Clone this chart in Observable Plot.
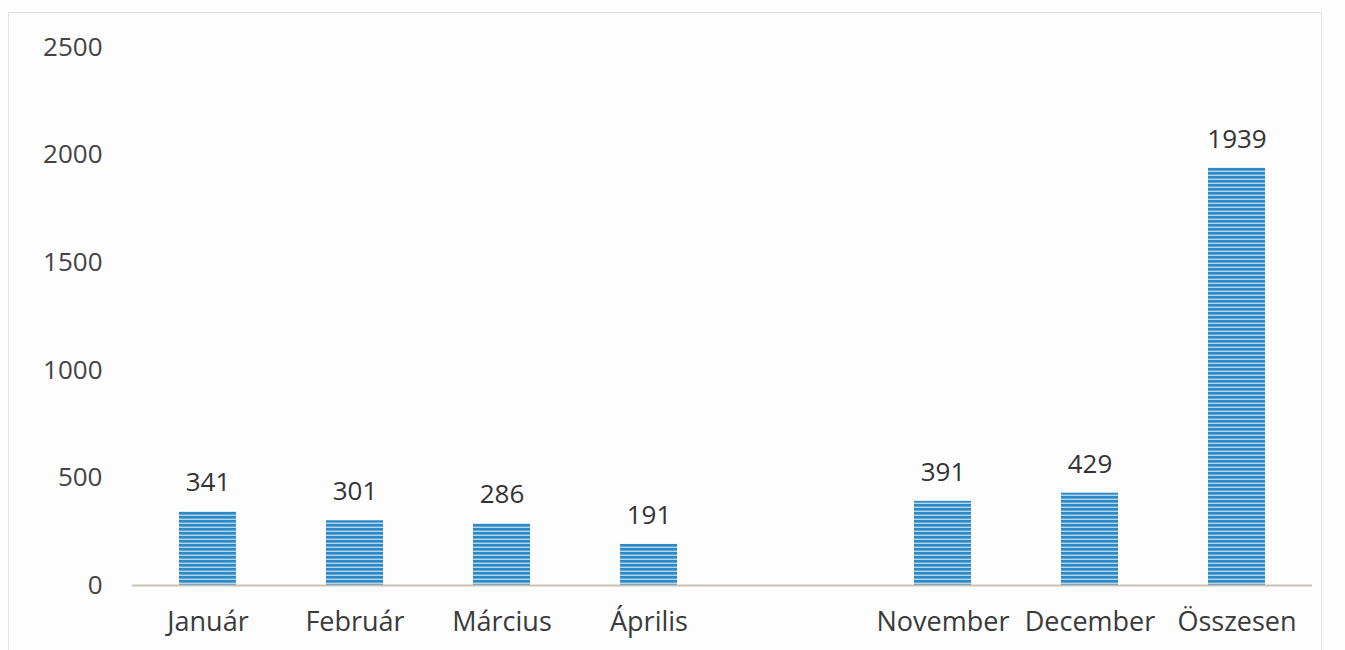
<!DOCTYPE html>
<html>
<head>
<meta charset="utf-8">
<script src="https://cdn.jsdelivr.net/npm/d3@7"></script>
<script src="https://cdn.jsdelivr.net/npm/@observablehq/plot@0.6"></script>
<style>
  html, body { margin: 0; padding: 0; background: #fdfdfd; }
  #frame { position: absolute; left: 8px; top: 12px; width: 1312px; height: 660px; border: 1px solid #e2e2e2; }
  #chart { position: absolute; left: 0; top: 0; }
</style>
</head>
<body>
<svg width="0" height="0" style="position:absolute">
  <defs>
    <pattern id="stripes" patternUnits="userSpaceOnUse" width="8" height="4">
      <rect x="0" y="0" width="8" height="4" fill="#2f89c6"></rect>
      <rect x="0" y="2.6" width="8" height="1.4" fill="#b0d7f0"></rect>
    </pattern>
  </defs>
</svg>
<div id="frame"></div>
<div id="chart"></div>
<script>
const categories = ["Január", "Február", "Március", "Április", " ", "November", "December", "Összesen"];
const values = [341, 301, 286, 191, null, 391, 429, 1939];
const yTicks = [0, 500, 1000, 1500, 2000, 2500];

const data = categories.map((c, i) => ({category: c, value: values[i]})).filter(d => d.value != null);

const chart = Plot.plot({
  width: 1345,
  height: 650,
  marginLeft: 132,
  marginRight: 33,
  marginTop: 47,
  marginBottom: 65,
  style: {fontFamily: "'Open Sans', sans-serif", fontSize: "25px", color: "#3a3a3a", background: "transparent"},
  x: {domain: categories, paddingInner: 0.61, paddingOuter: 0.305, label: null},
  y: {domain: [0, 2500], label: null},
  marks: [
    Plot.axisY({ticks: yTicks, tickFormat: d => String(d), tickSize: 0, tickPadding: 30, label: null, fontSize: 26, fill: "#444"}),
    Plot.axisX({tickSize: 0, tickPadding: 26, label: null, fontSize: 27, fill: "#3a3a3a"}),
    Plot.barY(data, {x: "category", y: "value", fill: "url(#stripes)"}),
    Plot.ruleY([0], {stroke: "#c9c1b3", strokeWidth: 2}),
    Plot.text(data, {x: "category", y: "value", text: d => String(d.value), dy: -29, fontSize: 26, fill: "#333"})
  ]
});
document.getElementById("chart").appendChild(chart);
</script>
</body>
</html>
